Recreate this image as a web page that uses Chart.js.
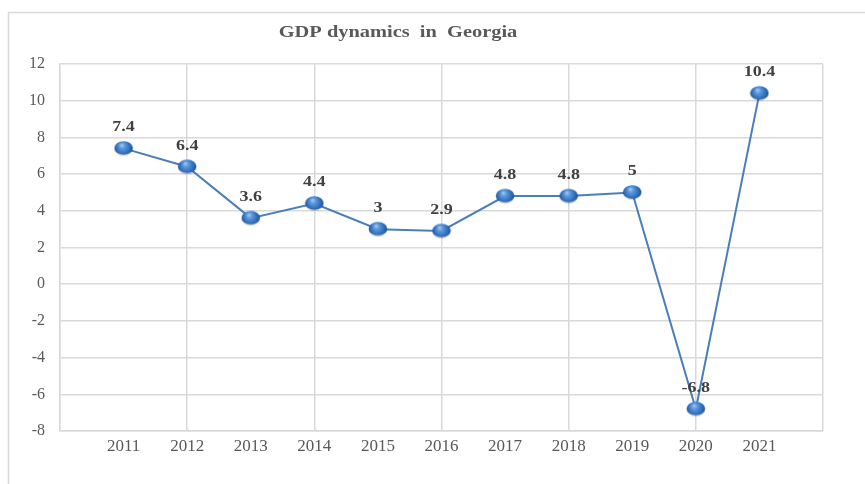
<!DOCTYPE html>
<html lang="en">
<head>
  <meta charset="UTF-8">
  <title>GDP dynamics in Georgia</title>
  <script src="https://cdn.jsdelivr.net/npm/chart.js@4.4.1/dist/chart.umd.min.js"></script>
  <style>
    body {
      margin: 0;
      padding: 0;
      background-color: #ffffff;
    }
    canvas {
      display: block;
    }
  </style>
</head>
<body>
  <canvas id="gdpChart" width="865" height="484"></canvas>

  <script>
    // real GDP growth, %
    const years = ['2011', '2012', '2013', '2014', '2015', '2016', '2017', '2018', '2019', '2020', '2021'];
    const growth = [7.4, 6.4, 3.6, 4.4, 3, 2.9, 4.8, 4.8, 5, -6.8, 10.4];
    const yTicks = [-8, -6, -4, -2, 0, 2, 4, 6, 8, 10, 12];

    const titleText = 'GDP dynamics  in  Georgia';
    const serif = '"Liberation Serif", "Times New Roman", serif';

    // little shaded ball used as the point marker
    function makeBall() {
      const c = document.createElement('canvas');
      c.width = 20;
      c.height = 17;
      const g = c.getContext('2d');
      g.fillStyle = 'rgba(0,0,0,0.15)';
      g.beginPath();
      g.ellipse(10, 9.5, 9, 6.8, 0, 0, Math.PI * 2);
      g.fill();
      const grad = g.createRadialGradient(8, 5, 0, 10, 8, 10);
      grad.addColorStop(0, '#a9cdf2');
      grad.addColorStop(0.3, '#5b97dc');
      grad.addColorStop(0.7, '#2f6cb8');
      grad.addColorStop(1, '#1b4a85');
      g.fillStyle = grad;
      g.beginPath();
      g.ellipse(10, 8, 9.3, 6.8, 0, 0, Math.PI * 2);
      g.fill();
      return c;
    }

    // frame round the whole chart, and the title
    const framePlugin = {
      id: 'frame',
      beforeDraw(chart) {
        const ctx = chart.ctx;
        ctx.save();
        ctx.strokeStyle = '#d9d9d9';
        ctx.lineWidth = 1.5;
        ctx.beginPath();
        ctx.moveTo(8.5, chart.height);
        ctx.lineTo(8.5, 12.5);
        ctx.lineTo(chart.width, 12.5);
        ctx.stroke();

        ctx.fillStyle = '#595959';
        ctx.font = 'bold 17px ' + serif;
        ctx.textAlign = 'center';
        ctx.textBaseline = 'middle';
        ctx.translate(398, 33);
        ctx.scale(1.2, 1);
        ctx.fillText(titleText, 0, 0);
        ctx.restore();
      }
    };

    // value above each point
    const valueLabels = {
      id: 'valueLabels',
      afterDatasetsDraw(chart) {
        const ctx = chart.ctx;
        const meta = chart.getDatasetMeta(0);
        ctx.save();
        ctx.fillStyle = '#404040';
        ctx.font = 'bold 15px ' + serif;
        ctx.textAlign = 'center';
        ctx.textBaseline = 'middle';
        meta.data.forEach((pt, i) => {
          ctx.save();
          ctx.translate(pt.x, pt.y - 21);
          ctx.scale(1.2, 1);
          ctx.fillText(String(growth[i]), 0, 0);
          ctx.restore();
        });
        ctx.restore();
      }
    };

    const ctx = document.getElementById('gdpChart').getContext('2d');

    new Chart(ctx, {
      type: 'line',
      data: {
        datasets: [{
          label: 'GDP growth',
          data: growth.map((v, i) => ({ x: i + 1, y: v })),
          borderColor: '#4a7ebb',
          borderWidth: 2,
          tension: 0,
          fill: false,
          pointStyle: makeBall(),
          pointRadius: 9,
          pointHoverRadius: 9
        }]
      },
      options: {
        responsive: false,
        animation: false,
        events: [],
        layout: {
          padding: { left: 10, right: 42, top: 64, bottom: 0 }
        },
        plugins: {
          legend: { display: false },
          tooltip: { enabled: false }
        },
        scales: {
          x: {
            type: 'linear',
            min: 0,
            max: years.length + 1,
            afterFit(scale) { scale.height = 53; },
            afterBuildTicks(scale) {
              const t = [];
              for (let i = 0; i <= years.length + 1; i++) t.push({ value: i });
              scale.ticks = t;
            },
            grid: {
              drawTicks: false,
              lineWidth: 1.5,
              color: (c) => (c.tick && c.tick.value % 2 === 0) ? '#d9d9d9' : 'rgba(0,0,0,0)'
            },
            border: { color: '#d9d9d9', width: 1.5 },
            ticks: {
              autoSkip: false,
              maxRotation: 0,
              padding: 5,
              color: '#595959',
              font: { family: serif, size: 17 },
              callback: (v) => years[v - 1] || ''
            }
          },
          y: {
            min: yTicks[0],
            max: yTicks[yTicks.length - 1],
            afterFit(scale) { scale.width = 50; },
            afterBuildTicks(scale) {
              scale.ticks = yTicks.map(v => ({ value: v }));
            },
            grid: {
              drawTicks: false,
              lineWidth: 1.5,
              color: '#d9d9d9'
            },
            border: { color: '#d9d9d9', width: 1.5 },
            ticks: {
              padding: 15,
              color: '#595959',
              font: { family: serif, size: 16 }
            }
          }
        }
      },
      plugins: [framePlugin, valueLabels]
    });
  </script>
</body>
</html>
